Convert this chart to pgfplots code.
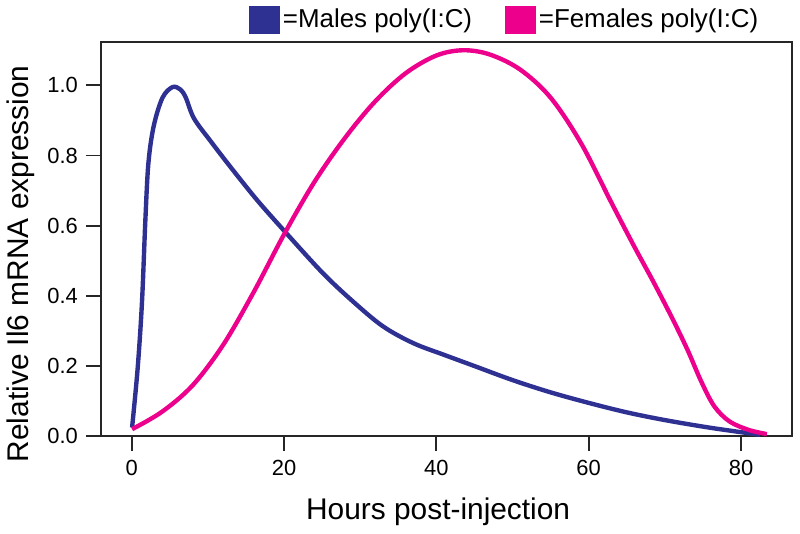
\documentclass[border=0pt]{standalone}
\usepackage{fontspec}
\setmainfont{Liberation Sans}
\usepackage{pgfplots}
\pgfplotsset{compat=1.18}
\definecolor{mblue}{HTML}{2E3192}
\definecolor{fpink}{HTML}{EC008C}
\begin{document}
\begin{tikzpicture}
\begin{axis}[
  scale only axis, width=347pt, height=198pt,
  xmin=-4.05, xmax=86.7, ymin=0, ymax=1.124,
  xtick={0,20,...,80}, ytick={0,0.2,0.4,0.6,0.8,1.0},
  tick align=outside, xtick pos=bottom, ytick pos=left,
  major tick length=7.5pt,
  axis line style={line width=1pt, draw=black!85},
  tick style={line width=0.9pt, draw=black!85},
  yticklabel style={xshift=-0.5pt, /pgf/number format/.cd, fixed, fixed zerofill, precision=1},
  /pgf/number format/assume math mode=true,
  tick label style={font=\fontsize{11}{13}\selectfont},
  xticklabel style={yshift=-1pt},
  xlabel={Hours post-injection}, ylabel={Relative Il6 mRNA expression},
  label style={font=\fontsize{15}{18}\selectfont},
  xlabel style={at={(axis description cs:0.488,-0.212)}, anchor=base},
  ylabel style={at={(axis description cs:-0.105,0.437)}, anchor=base},
  legend columns=2,
  legend style={at={(0.585,1)}, anchor=south, yshift=3.5pt, draw=none, fill=none,
    inner sep=0pt, font=\fontsize{13}{15}\selectfont,
    /tikz/every even column/.append style={column sep=15pt},
    nodes={inner xsep=1.5pt}},
  legend image code/.code={\fill[#1, draw=none] (0pt,-7pt) rectangle (15.5pt,7pt);},
]
\addplot[mblue, line width=2.2pt, smooth, tension=0.55] coordinates {
  (0.05,0.025) (0.78,0.193) (1.35,0.382) (1.8,0.619) (2.2,0.78) (2.9,0.885)
  (4.05,0.965) (5.36,0.995) (6.4,0.988) (7.1,0.965) (8.2,0.905) (10.5,0.837)
  (13.2,0.761) (16.5,0.672) (20,0.586) (25,0.467) (29,0.385) (33,0.313)
  (37,0.265) (41,0.232) (45,0.200) (50,0.160) (55,0.125) (60,0.095)
  (65,0.068) (70,0.046) (76,0.024) (82.5,0.004)
};
\addlegendentry{=Males poly(I:C)}
\addplot[fpink, line width=2.2pt, smooth, tension=0.55] coordinates {
  (0.05,0.02) (4,0.07) (8,0.145) (12,0.26) (16,0.41) (20,0.575) (24,0.725)
  (28,0.85) (32,0.955) (36,1.035) (40,1.085) (43.5,1.10) (47,1.088)
  (51,1.045) (55,0.965) (59,0.835) (63,0.665) (66,0.54) (68.5,0.44)
  (71,0.335) (73,0.245) (74.8,0.155) (76.5,0.085) (78.5,0.042)
  (81,0.018) (83.4,0.006)
};
\addlegendentry{=Females poly(I:C)}
\end{axis}
\path ([xshift=-49pt,yshift=-49pt]current axis.south west) rectangle ([xshift=4pt,yshift=21pt]current axis.north east);
\end{tikzpicture}
\end{document}
